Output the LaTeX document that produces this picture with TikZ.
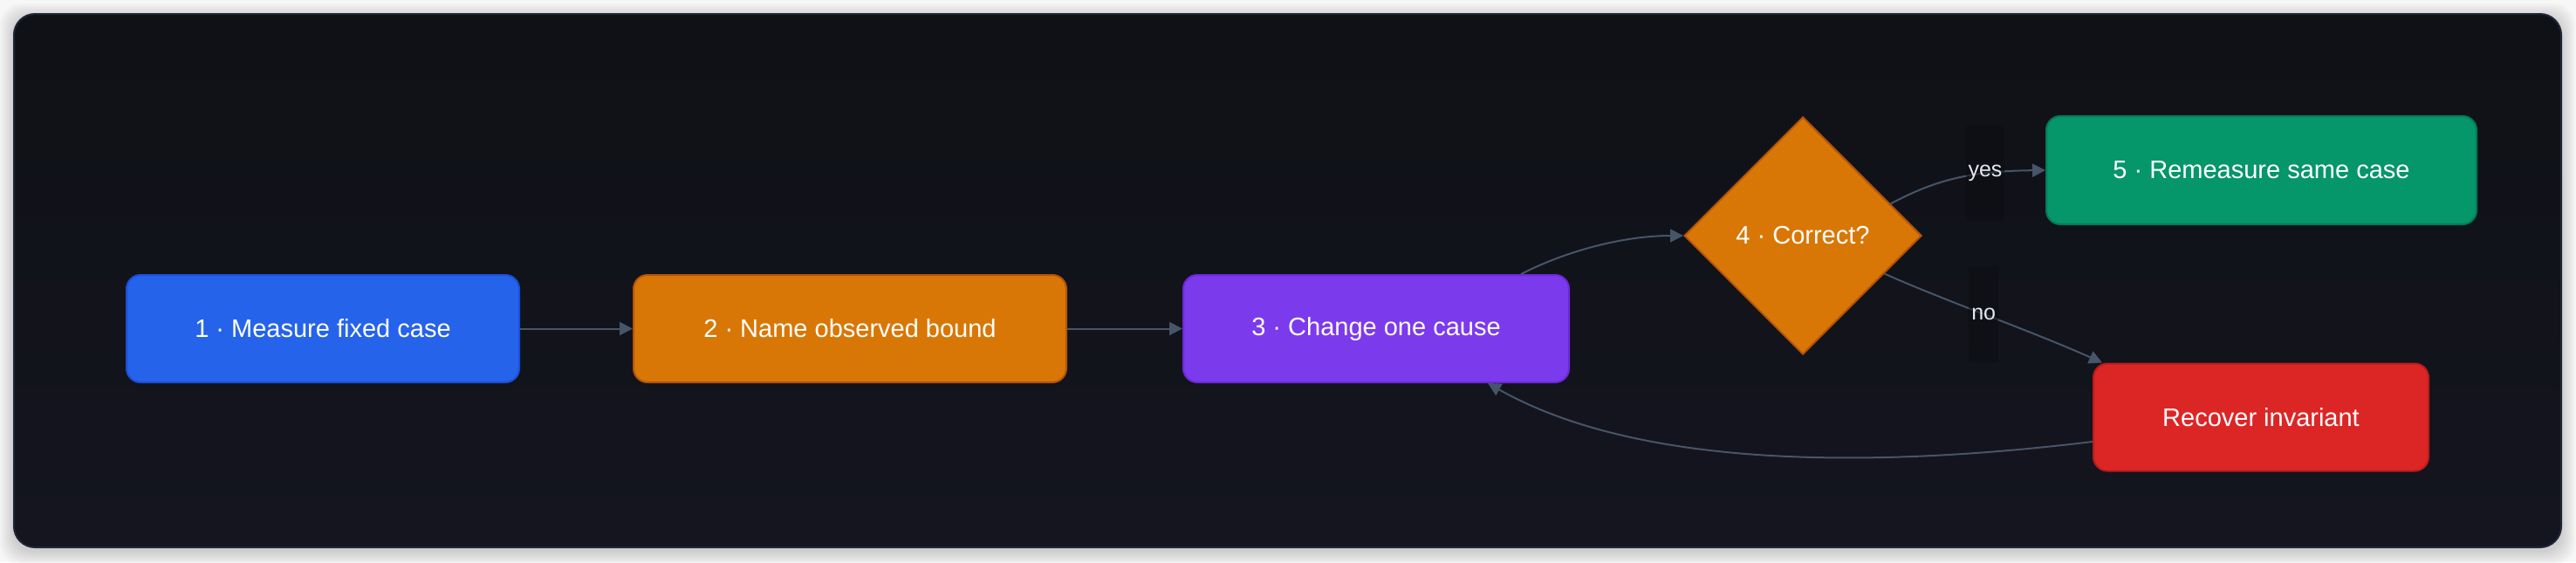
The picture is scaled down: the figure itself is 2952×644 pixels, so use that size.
\documentclass[tikz,border=0pt]{standalone}
\usepackage{fontspec}
\setmainfont{Liberation Sans}
\usetikzlibrary{arrows.meta,shapes.geometric,positioning,calc}

\definecolor{pagebg}{HTML}{F7F7F8}
\definecolor{cardtop}{HTML}{0F1116}
\definecolor{cardbottom}{HTML}{14151F}
\definecolor{cardline}{HTML}{1E2635}
\definecolor{stepblue}{HTML}{2563EB}
\definecolor{stepblueline}{HTML}{1D4ED8}
\definecolor{steporange}{HTML}{D97706}
\definecolor{steporangeline}{HTML}{B45309}
\definecolor{steppurple}{HTML}{7C3AED}
\definecolor{steppurpleline}{HTML}{6D28D9}
\definecolor{stepgreen}{HTML}{059669}
\definecolor{stepgreenline}{HTML}{047857}
\definecolor{stepred}{HTML}{DC2626}
\definecolor{stepredline}{HTML}{B91C1C}
\definecolor{edgegray}{HTML}{475569}
\definecolor{labelbg}{HTML}{0C0E12}
\definecolor{labeltext}{HTML}{E5E7EB}

\tikzset{
  stepbox/.style={rectangle, rounded corners=8pt, minimum height=61.5pt,
    line width=1pt, text=white, font=\fontsize{14.5}{17}\selectfont},
  decision/.style={diamond, aspect=1, minimum width=136pt, minimum height=136pt,
    inner sep=0pt, line width=1pt, fill=steporange, draw=steporangeline,
    text=white, font=\fontsize{14.5}{17}\selectfont},
  link/.style={draw=edgegray, line width=1pt, -{Triangle[length=7.5pt,width=7.5pt]}},
  edgelabel/.style={fill=labelbg, fill opacity=0.55, text opacity=1, text=labeltext,
    inner sep=1.5pt, minimum height=55pt, font=\fontsize{12.5}{15}\selectfont}
}

\begin{document}
\begin{tikzpicture}[x=0.5pt, y=-0.5pt]
  \useasboundingbox (0,0) rectangle (2952,644);
  \fill[pagebg] (0,0) rectangle (2952,644);
  % soft shadow round the card
  \foreach \s in {2,4,...,16}
    \fill[black, opacity=0.018, rounded corners=12pt] (16-\s,20-\s) rectangle (2935+\s,631+\s);
  \draw[cardline, line width=1pt, rounded corners=12pt, top color=cardtop, bottom color=cardbottom]
    (16,16) rectangle (2935,627);

  \node[stepbox, fill=stepblue, draw=stepblueline, minimum width=225pt] (measure) at (370,376.5) {1 · Measure fixed case};
  \node[stepbox, fill=steporange, draw=steporangeline, minimum width=248pt] (bound) at (974,376.5) {2 · Name observed bound};
  \node[stepbox, fill=steppurple, draw=steppurpleline, minimum width=221pt] (cause) at (1577,376.5) {3 · Change one cause};
  \node[decision] (correct) at (2066,270) {4 · Correct?};
  \node[stepbox, fill=stepgreen, draw=stepgreenline, minimum width=246.5pt, minimum height=62pt] (remeasure) at (2591.5,195) {5 · Remeasure same case};
  \node[stepbox, fill=stepred, draw=stepredline, minimum width=192pt] (recover) at (2591,478) {Recover invariant};

  \draw[link] (measure) -- (bound);
  \draw[link] (bound) -- (cause);
  \draw[link] ($(cause.north east)+(-56,0)$) .. controls (1800,285) and (1865,270) .. (correct.west);
  \draw[link] (correct.20) .. controls (2220,205) and (2260,196) .. node[edgelabel, pos=0.68] {yes} (remeasure.west);
  \draw[link] (correct.-25) .. controls (2230,345) and (2330,380) .. node[edgelabel, pos=0.47] {no} ($(recover.north west)+(11,0)$);
  \draw[link] ($(recover.west)+(0,28)$) .. controls (2150,536) and (1880,538) .. ($(cause.south)+(128,0)$);
\end{tikzpicture}
\end{document}
